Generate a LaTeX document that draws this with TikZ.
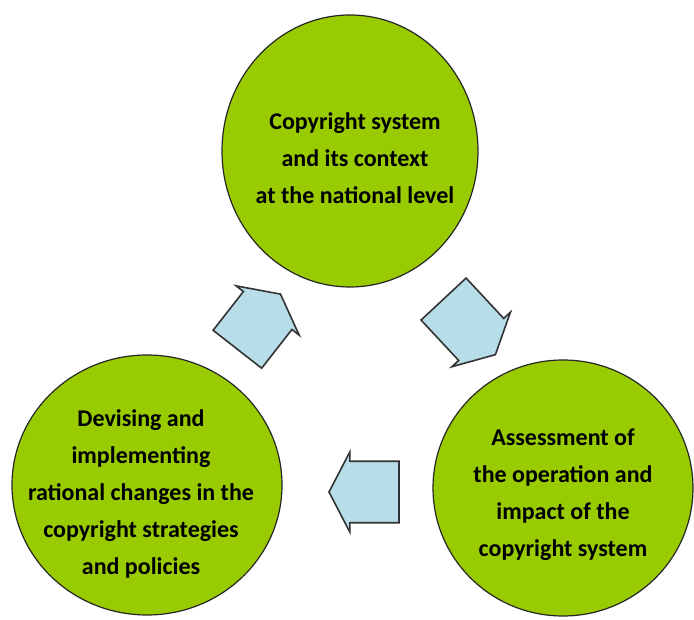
\documentclass[tikz,border=0pt]{standalone}
\usepackage{xcolor}
\usepackage{fontspec}
\setmainfont{Carlito}
\usepackage{tikz}
\usetikzlibrary{shapes.geometric,shapes.arrows}

\definecolor{cyclegreen}{RGB}{153,204,0}
\definecolor{cycleblue}{RGB}{183,221,232}
\tikzset{
  stage/.style={ellipse, draw=black!85, line width=1.2pt, fill=cyclegreen, inner sep=0pt},
  stagetext/.style={align=center, inner sep=0pt, font=\fontsize{24}{37}\selectfont\bfseries},
  turn/.style={single arrow, draw=black!80, line width=1.6pt, fill=cycleblue,
    inner sep=0pt, text height=46pt, text depth=0pt, minimum height=70pt,
    minimum width=80pt, single arrow tip angle=125}
}

\begin{document}
\begin{tikzpicture}[x=1pt,y=1pt]
\useasboundingbox (0,0) rectangle (694,619);
  \node[stage, minimum width=256pt, minimum height=272pt] (national) at (350,468) {};
  \node[stage, minimum width=260pt, minimum height=256pt] (assess) at (563,131) {};
  \node[stage, minimum width=270pt, minimum height=260pt] (devise) at (147,134) {};
  \node[stagetext] (national text) at (355,461)
    {Copyright system\\and its context\\at the national level};
  \node[stagetext] (assess text) at (563,124)
    {Assessment of\\the operation and\\impact of the\\copyright system};
  \node[stagetext] (devise text) at (141,125)
    {Devising and\\implementing\\rational changes in the\\copyright strategies\\and policies};
  % arrows between the stages
  \node[turn, rotate=-47, minimum height=76pt] (toassess) at (464,298) {};
  \node[turn, rotate=180] (todevise) at (372,127) {};
  \node[turn, rotate=52] (tonational) at (254,291) {};
\end{tikzpicture}
\end{document}
